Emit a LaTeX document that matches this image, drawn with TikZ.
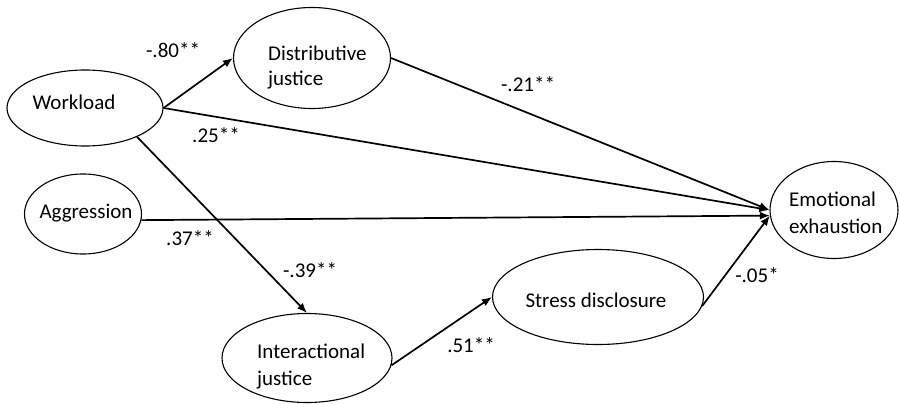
\documentclass[tikz,border=0pt]{standalone}
\usepackage{fontspec}
\setmainfont{Carlito}
\usetikzlibrary{shapes.geometric,arrows.meta}
\begin{document}
\begin{tikzpicture}[x=1pt,y=-1pt,
  latent/.style={draw=black,line width=1.1pt,ellipse,inner sep=0pt},
  txt/.style={font=\fontsize{21}{25}\selectfont,inner sep=0pt},
  coef/.style={font=\fontsize{21}{25}\selectfont,inner sep=0pt,anchor=base},
  path/.style={line width=1.7pt,-{Latex[length=10pt,width=8pt]}}]
\useasboundingbox (0,0) rectangle (900,404);
% ellipses
\node[latent,minimum width=156pt,minimum height=76pt] (wl) at (85,108) {};
\node[latent,minimum width=157pt,minimum height=101pt] (dj) at (312,58) {};
\node[latent,minimum width=117pt,minimum height=80pt] (ag) at (83,214) {};
\node[latent,minimum width=170pt,minimum height=89pt] (ij) at (307,358) {};
\node[latent,minimum width=211pt,minimum height=95pt] (sd) at (598,297) {};
\node[latent,minimum width=128pt,minimum height=97pt] (ee) at (834,210) {};
% texts
\node[txt,anchor=base] (wlt) at (74,110) {Workload};
\node[txt,anchor=base west] (djt1) at (268,60) {Distributive};
\node[txt,anchor=base west] (djt2) at (268,85) {justice};
\node[txt,anchor=base] (agt) at (86,218) {Aggression};
\node[txt,anchor=base west] (ijt1) at (257,358) {Interactional};
\node[txt,anchor=base west] (ijt2) at (257,385) {justice};
\node[txt,anchor=base] (sdt) at (596,307) {Stress disclosure};
\node[txt,anchor=base west] (eet1) at (789,206) {Emotional};
\node[txt,anchor=base west] (eet2) at (789,233) {exhaustion};
% paths
\draw[path] (wl.east) -- (dj.west);
\draw[path] (wl.east) -- (ee.west);
\draw[path] (dj.east) -- (ee.west);
\draw[path] (ag.-6) -- (ee.185);
\draw[path] (wl.-29) -- (ij.north);
\draw[path] (ij.-5) -- (sd.west);
\draw[path] (sd.-5) -- (ee.185);
% coefficients
\node[coef] (c1) at (173,58) {-.80**};
\node[coef] (c2) at (216,142) {.25**};
\node[coef] (c3) at (528,92) {-.21**};
\node[coef] (c4) at (190,245) {.37**};
\node[coef] (c5) at (310,277) {-.39**};
\node[coef] (c6) at (471,352) {.51**};
\node[coef] (c7) at (757,282) {-.05*};
\end{tikzpicture}
\end{document}
